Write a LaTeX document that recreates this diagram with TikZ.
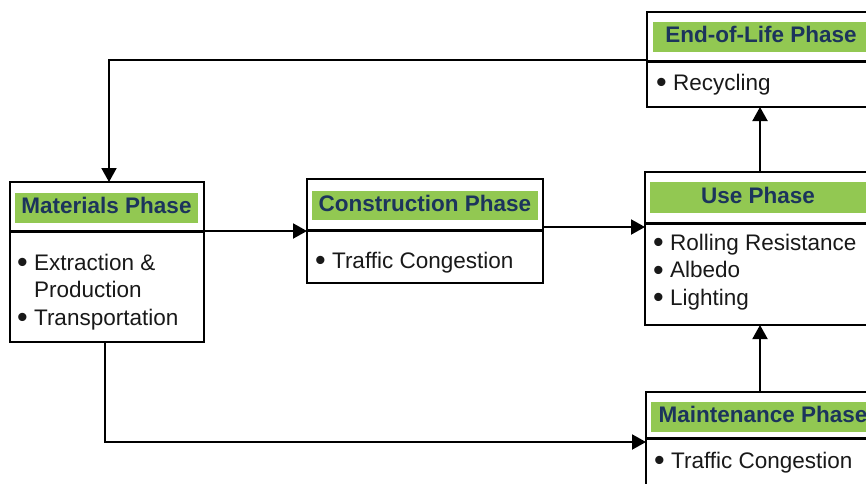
\documentclass[tikz,border=0pt]{standalone}
\usepackage{fontspec}
\setmainfont{Liberation Sans}
\usetikzlibrary{arrows.meta}
\definecolor{phasegreen}{RGB}{146,200,82}
\definecolor{phasenavy}{RGB}{28,52,92}
\definecolor{bodyink}{RGB}{25,25,25}
% enlarged list bullet, centred on the lower-case letters, then a word space
\newcommand{\itembul}{\raisebox{-2.5pt}{\scalebox{1.35}{•}}\ }

\begin{document}
\begin{tikzpicture}[x=1pt, y=-1pt,
  phasebox/.style={draw=black, line width=2.2pt, inner sep=0pt, outer sep=0pt},
  titlebar/.style={fill=phasegreen, text=phasenavy, inner sep=0pt, outer sep=0pt,
    font=\fontsize{22.5}{27}\selectfont\bfseries, text height=16.2pt, text depth=4.5pt},
  divider/.style={draw=black, line width=3pt},
  item/.style={anchor=base west, inner sep=0pt, text=bodyink,
    font=\fontsize{22.5}{27}\selectfont},
  flow/.style={draw=black, line width=2pt, -{Triangle[length=14pt, width=15pt]}}
]
\useasboundingbox (0,0) rectangle (866,483);
\clip (0,0) rectangle (866,483);
\fill[white] (0,0) rectangle (866,483);

% Materials phase
\node[phasebox, minimum width=194pt, minimum height=160pt] (mat) at (107,262) {};
\node[titlebar, minimum width=183pt, minimum height=30pt] (matT) at (106.5,208) {Materials Phase};
\draw[divider] (mat.west |- 0,231) -- (mat.east |- 0,231);
\node[item] (matA) at (17,270) {\itembul Extraction \&};
\node[item] (matB) at (17,297.5) {\phantom{\itembul}Production};
\node[item] (matC) at (17,325) {\itembul Transportation};

% Construction phase
\node[phasebox, minimum width=236pt, minimum height=104pt] (con) at (425,231) {};
\node[titlebar, minimum width=226pt, minimum height=29pt] (conT) at (425,205.5) {Construction Phase};
\draw[divider] (con.west |- 0,230) -- (con.east |- 0,230);
\node[item] (conA) at (315,268) {\itembul Traffic Congestion};

% End-of-life phase
\node[phasebox, minimum width=228pt, minimum height=95pt] (eol) at (761,59.5) {};
\node[titlebar, minimum width=216pt, minimum height=30pt] (eolT) at (761,37) {End-of-Life Phase};
\draw[divider] (eol.west |- 0,61) -- (eol.east |- 0,61);
\node[item] (eolA) at (656,90) {\itembul Recycling};

% Use phase
\node[phasebox, minimum width=226pt, minimum height=153pt] (use) at (758,248.5) {};
\node[titlebar, minimum width=216pt, minimum height=31pt] (useT) at (758,197.5) {Use Phase};
\draw[divider] (use.west |- 0,223) -- (use.east |- 0,223);
\node[item] (useA) at (653,250) {\itembul Rolling Resistance};
\node[item] (useB) at (653,277.5) {\itembul Albedo};
\node[item] (useC) at (653,305) {\itembul Lighting};

% Maintenance phase
\node[phasebox, minimum width=234pt, minimum height=96pt] (mnt) at (763,440) {};
\node[titlebar, minimum width=224pt, minimum height=30pt] (mntT) at (763,417) {Maintenance Phase};
\draw[divider] (mnt.west |- 0,438) -- (mnt.east |- 0,438);
\node[item] (mntA) at (654,468) {\itembul Traffic Congestion};

% Connectors
\coordinate (mcY) at (0,231);
\coordinate (cuY) at (0,227);
\coordinate (vX) at (760,0);
\coordinate (upX) at (109,0);
\coordinate (dnX) at (105,0);
\coordinate (dnY) at (0,442);
\draw[flow] (mat.east |- mcY) -- (con.west |- mcY);
\draw[flow] (con.east |- cuY) -- (use.west |- cuY);
\draw[flow] (vX |- use.north) -- (vX |- eol.south);
\draw[flow] (vX |- mnt.north) -- (vX |- use.south);
\draw[flow] (eol.west) -| (upX |- mat.north);
\draw[flow] (dnX |- mat.south) |- (mnt.west |- dnY);
\end{tikzpicture}
\end{document}
